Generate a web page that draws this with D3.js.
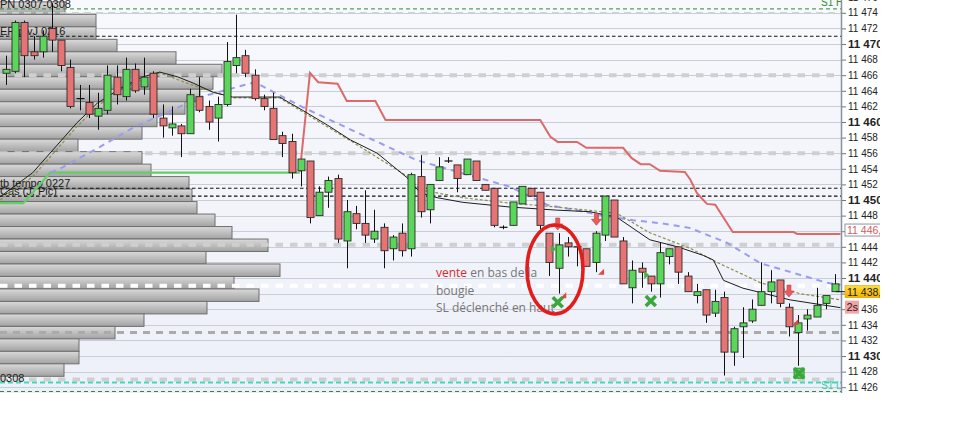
<!DOCTYPE html>
<html>
<head>
<meta charset="utf-8">
<script src="https://cdn.jsdelivr.net/npm/d3@7"></script>
<style>
html, body { margin: 0; padding: 0; background: #fff; }
svg { display: block; }
</style>
</head>
<body>
<svg id="chart" width="977" height="437"></svg>
<script>
// candles (index 0 = leftmost visible bar)
var opens = [11466.25, 11466.5, 11472.75, 11469, 11469, 11472, 11470.5, 11467, 11463, 11462.5,
  11460.75, 11461.5, 11465.75, 11463.25, 11466.75, 11464.5, 11466.25, 11460.5, 11459.25, 11459.5,
  11458.5, 11463.25, 11462, 11460.5, 11462.25, 11467.25, 11468.5, 11466, 11463, 11461.75,
  11458.25, 11457.5, 11453.75, 11455, 11448, 11451, 11452.75, 11444.75, 11448.25, 11447,
  11445, 11446.5, 11443.75, 11445.75, 11443.75, 11453, 11448.75, 11452.5, 11455, 11454.5,
  11453.25, 11455, 11452, 11451.5, 11446.5, 11446.75, 11449.5, 11451.5, 11451, 11445.75,
  11441.25, 11444.5, 11444, 11443.75, 11442, 11445.5, 11450, 11444.75, 11438.75, 11441.25,
  11440.25, 11439.25, 11442.75, 11444, 11440.25, 11437.75, 11438.5, 11435.5, 11437.5, 11430.5,
  11433.75, 11434.5, 11436.5, 11438.25, 11439.75, 11436.25, 11433, 11434.75, 11435, 11436.75,
  11438.25];
var highs = [11468.5, 11473, 11473, 11471, 11471.75, 11475.25, 11470.5, 11468, 11464.75, 11464.75,
  11463.75, 11467.25, 11467.25, 11468.25, 11467.5, 11468.25, 11466.5, 11462.25, 11462, 11459.75,
  11464.25, 11465.75, 11462.75, 11463.25, 11470.25, 11473.75, 11469.25, 11466.75, 11463.5, 11463.75,
  11458.75, 11458.5, 11455.25, 11455, 11451.75, 11453, 11453.25, 11450, 11449.25, 11451.25,
  11448.75, 11447, 11445.5, 11447, 11453.5, 11455.75, 11452, 11455.5, 11455.5, 11454.5,
  11455.25, 11455, 11452, 11451.5, 11446.75, 11449.75, 11451.75, 11451.5, 11451, 11445.75,
  11445.75, 11445.25, 11444, 11443.75, 11446, 11450.5, 11450, 11445.25, 11442.25, 11442,
  11440.25, 11444.5, 11443.75, 11444, 11440.75, 11439.25, 11438.5, 11438.5, 11438.25, 11433.75,
  11436.25, 11437.25, 11442, 11441, 11439.75, 11436.75, 11435.25, 11436, 11438.75, 11437.75,
  11440.5];
var lows = [11464.75, 11466.25, 11465.75, 11468, 11468.25, 11469, 11466.5, 11461.75, 11461.5, 11460.5,
  11459, 11461, 11462.25, 11462.75, 11463.75, 11463.5, 11460.5, 11458, 11458.25, 11455.5,
  11458.5, 11461.25, 11459, 11457.5, 11462, 11466.25, 11465.75, 11462.75, 11461.5, 11457.75,
  11455.5, 11452.75, 11451.75, 11447, 11448, 11449, 11444.5, 11441.25, 11446.25, 11444.5,
  11444.5, 11441.25, 11442.25, 11442.75, 11442.75, 11447.75, 11447, 11452.5, 11454.75, 11451,
  11453.25, 11452.5, 11451.25, 11446.5, 11446.25, 11446.75, 11449.5, 11450.5, 11446.25, 11440.25,
  11438, 11442.75, 11441.5, 11441.5, 11440.75, 11444.75, 11445.25, 11439.25, 11436.75, 11438.75,
  11438.25, 11437.5, 11441.75, 11439.25, 11438.25, 11436.75, 11434.25, 11435, 11427.5, 11428.75,
  11429.75, 11434.25, 11436.5, 11436.75, 11436.25, 11432.5, 11428.75, 11433.25, 11435, 11436,
  11438.25];
var closes = [11466.75, 11472.75, 11468.5, 11468.5, 11471, 11470.5, 11467.25, 11462, 11463, 11461,
  11461.75, 11466, 11463.5, 11466.75, 11464, 11465.75, 11461, 11459.5, 11459.75, 11458.5,
  11463.5, 11461.5, 11460, 11462.25, 11467.75, 11468.25, 11466.25, 11463, 11462, 11457.75,
  11457.25, 11453.5, 11455.25, 11447.75, 11451, 11452.5, 11445, 11448.5, 11447, 11445.5,
  11446, 11443.5, 11445.25, 11443.5, 11453.25, 11448.5, 11452, 11454.25, 11455, 11452.75,
  11455.25, 11452.5, 11451.25, 11446.75, 11446.5, 11449.75, 11451.75, 11450.5, 11446.75, 11442,
  11444.25, 11444, 11444, 11441.5, 11445.75, 11450.5, 11445.25, 11439.25, 11441, 11440.75,
  11439.25, 11443.25, 11443.75, 11440.75, 11438.25, 11438.25, 11435.25, 11437, 11430.5, 11433.5,
  11434.25, 11436, 11438.25, 11439.5, 11436.75, 11433.75, 11434.25, 11435.25, 11436.5, 11437.75,
  11439.25];

// moving averages and stops: [bar index, price] vertices
var maBlack = [[-0.65, 11450.4], [2.9, 11453.5], [7.7, 11459.9], [9.9, 11462.4], [12.7, 11464.5],
  [14.9, 11465.8], [16.7, 11466.4], [18.6, 11465.8], [20.3, 11465.0], [22.5, 11463.8], [24.6, 11463.2],
  [29.7, 11463.2], [32.2, 11461.5], [34.9, 11459.6], [37.4, 11457.7], [40.3, 11456.0], [43.5, 11452.9],
  [45.0, 11450.9], [46.8, 11450.3], [49.6, 11449.7], [54.7, 11449.1], [59.8, 11448.7], [63.4, 11448.5],
  [66.3, 11447.8], [69.9, 11444.9], [72.9, 11444.0], [75.7, 11442.9], [76.8, 11442.3], [77.9, 11439.7],
  [80.0, 11438.7], [85.1, 11437.2], [90.6, 11436.2]];
var maOlive = [[-0.65, 11450.0], [2.9, 11453.0], [7.7, 11459.4], [9.9, 11462.0], [12.7, 11464.4],
  [16.7, 11466.3], [20.3, 11464.7], [24.6, 11463.1], [29.7, 11463.1], [32.2, 11461.3], [37.4, 11457.6],
  [43.5, 11453.1], [45.0, 11451.3], [49.6, 11450.3], [54.7, 11449.6], [59.8, 11449.1], [66.3, 11448.3],
  [69.9, 11445.8], [74.3, 11443.8], [77.2, 11442.0], [81.9, 11439.4], [86.2, 11438.0], [90.6, 11437.2]];
var maSlow = [[4.8, 11453.5], [6.0, 11454.1], [10.2, 11456.8], [14.0, 11459.4], [17.5, 11461.2],
  [21.1, 11463.2], [27.0, 11465.1], [32.2, 11461.9], [44.6, 11455.1], [54.7, 11451.7], [58.7, 11449.4],
  [64.5, 11448.1], [68.1, 11447.4], [71.3, 11447.0], [74.3, 11446.4], [78.3, 11444.5], [81.9, 11441.9],
  [89.1, 11439.4], [90.6, 11439.1]];
var stopLong = [[-1, 11449.6], [1.9, 11449.6], [4.8, 11453.5], [31.9, 11453.5]];
var stopShort = [[31.9, 11453.6], [33.0, 11466.3], [33.9, 11465.1], [36.0, 11464.9], [37.0, 11462.7],
  [40.1, 11462.7], [41.2, 11460.25], [58.0, 11460.25], [59.1, 11458.1], [59.9, 11457.45], [62.0, 11457.45],
  [63.0, 11456.7], [67.0, 11456.7], [67.9, 11455.4], [68.9, 11454.6], [69.9, 11454.6], [71.0, 11453.75],
  [73.7, 11453.6], [74.3, 11452.6], [75.0, 11450.9], [75.7, 11450.0], [76.1, 11449.5], [77.0, 11449.4],
  [78.9, 11445.9], [85.5, 11445.9], [85.9, 11445.65], [90.6, 11445.65]];

// volume profile on the left (bin low price, volume)
var profileLow = [11473.8, 11472.2, 11470.6, 11469.0, 11467.4, 11465.8, 11464.2, 11462.6, 11461.0, 11459.4,
  11457.8, 11456.2, 11454.6, 11453.0, 11451.4, 11449.8, 11448.2, 11446.6, 11445.0, 11443.4,
  11441.8, 11440.2, 11438.6, 11437.0, 11435.4, 11433.8, 11432.2, 11430.6, 11429.0, 11427.4];
var profileVol = [65, 96, 96, 117, 176, 222, 213, 200, 185, 157, 142, 78, 142, 151, 189, 192, 197, 215, 232, 268,
  206, 280, 234, 259, 207, 144, 115, 79, 79, 64];
var profileStep = 1.6;

// horizontal levels
var levelPrice = [11474.5, 11474, 11471, 11466, 11456, 11451.5, 11450.5, 11444.25, 11439, 11433, 11427, 11426.6, 11425.45];
var levelKind = ['pivot', 'light', 'black', 'grey', 'grey', 'black', 'black', 'grey', 'white', 'mid', 'grey', 'cyan', 'pivot'];
var levelText = ['PN 0307-0308', '', 'ER pivJ 0216', '', '', 'tb tempo 0227', 'Cas (J, Pic)', '', '', '', '', '0308', ''];

// trade markers
var exitIdx = [59.9, 70.0], exitPx = [11436.9, 11437.05];
var targetIdx = [86.1], targetPx = [11427.8];
var sellIdx = [59.9, 64.1, 85.0], sellPx = [11446.8, 11447.4, 11438.2];
var redTickIdx = [60.5, 64.6, 85.7], redTickPx = [11437.8, 11440.8, 11434.35];
var greenTickIdx = [59.4, 69.5], greenTickPx = [11443.7, 11440.4];

var lastQuote = 11438.25, stopQuote = 11446.15;
var annotation = ['vente', ' en bas de la', 'bougie', 'SL déclenché en haut'];

var W = 977, H = 437, plotW = 841, plotH = 393;
var svg = d3.select('#chart');
var x = d3.scaleLinear().domain([0, 90]).range([6, 835]);
var y = d3.scaleLinear().domain([11425.26, 11475.64]).range([plotH, 0]);
var xv = d3.scaleLinear().domain([0, 300]).range([0, 300]);

var fmtPrice = function (v, dec) {
    var s = v.toFixed(dec || 0).replace('.', ',');
    return s.slice(0, 2) + ' ' + s.slice(2);
};

var defs = svg.append('defs');
defs.append('clipPath').attr('id', 'plotClip')
    .append('rect').attr('width', plotW).attr('height', plotH);
var bg = defs.append('linearGradient').attr('id', 'bgGrad').attr('x1', 0).attr('x2', 0).attr('y1', 0).attr('y2', 1);
bg.append('stop').attr('offset', '0%').attr('stop-color', '#f8f9fd');
bg.append('stop').attr('offset', '100%').attr('stop-color', '#edf0f8');
var bar = defs.append('linearGradient').attr('id', 'barGrad').attr('x1', 0).attr('x2', 0).attr('y1', 0).attr('y2', 1);
bar.append('stop').attr('offset', '0%').attr('stop-color', '#dadada');
bar.append('stop').attr('offset', '100%').attr('stop-color', '#a2a2a2');
var yel = defs.append('linearGradient').attr('id', 'yelGrad').attr('x1', 0).attr('x2', 0).attr('y1', 0).attr('y2', 1);
yel.append('stop').attr('offset', '0%').attr('stop-color', '#ffdc3a');
yel.append('stop').attr('offset', '100%').attr('stop-color', '#f2b100');

svg.append('rect').attr('width', W).attr('height', H).attr('fill', '#fff');
var plot = svg.append('g').attr('clip-path', 'url(#plotClip)');
plot.append('rect').attr('width', plotW).attr('height', plotH).attr('fill', 'url(#bgGrad)');

// grid every 2 points
var gridVals = d3.range(11426, 11477, 2);
plot.append('g').selectAll('line').data(gridVals).enter().append('line')
    .attr('x1', 0).attr('x2', plotW)
    .attr('y1', function (d) { return Math.round(y(d)) + 0.5; })
    .attr('y2', function (d) { return Math.round(y(d)) + 0.5; })
    .attr('stroke', '#c9cdd8').attr('stroke-width', 1);

// volume profile
plot.append('g').selectAll('rect').data(profileLow).enter().append('rect')
    .attr('x', -1)
    .attr('y', function (d) { return y(d + profileStep); })
    .attr('width', function (d, i) { return xv(profileVol[i]) + 1; })
    .attr('height', function (d) { return y(d) - y(d + profileStep); })
    .attr('fill', 'url(#barGrad)')
    .attr('stroke', '#6f6f6f').attr('stroke-width', 1);

// level lines
var levelStyle = {
    pivot: { c: '#2f8a2f', w: 1, dash: '4,3' },
    light: { c: '#cfd2d8', w: 1.5, dash: '7,5' },
    black: { c: '#111', w: 1.1, dash: '3.5,2.5' },
    grey: { c: '#cfcfcf', w: 4, dash: '7.5,7' },
    white: { c: '#ffffff', w: 4, dash: '7.5,7' },
    mid: { c: '#aaaaaa', w: 3, dash: '7,6' },
    cyan: { c: '#3ddcb4', w: 2, dash: '5,3' }
};
plot.append('g').selectAll('line').data(levelPrice).enter().append('line')
    .attr('x1', 0).attr('x2', plotW)
    .attr('y1', function (d) { return y(d); })
    .attr('y2', function (d) { return y(d); })
    .attr('stroke', function (d, i) { return levelStyle[levelKind[i]].c; })
    .attr('stroke-width', function (d, i) { return levelStyle[levelKind[i]].w; })
    .attr('stroke-dasharray', function (d, i) { return levelStyle[levelKind[i]].dash; });
plot.append('g').selectAll('text').data(levelPrice).enter().append('text')
    .attr('x', 0)
    .attr('y', function (d) { return y(d) - 1; })
    .attr('font-family', 'Liberation Sans, Arial, sans-serif').attr('font-size', 11)
    .attr('fill', '#1a1a1a')
    .text(function (d, i) { return levelText[i]; });
plot.append('text').attr('x', 821).attr('y', y(11474.5) - 2.5)
    .attr('font-family', 'Liberation Sans, Arial, sans-serif').attr('font-size', 10)
    .attr('fill', '#2f8a2f').text('S1 H');
plot.append('text').attr('x', 821).attr('y', y(11426.6) + 6)
    .attr('font-family', 'Liberation Sans, Arial, sans-serif').attr('font-size', 10)
    .attr('fill', '#3cc9a4').text('S1 L');

// lines
var line = d3.line()
    .x(function (d) { return x(d[0]); })
    .y(function (d) { return y(d[1]); });
plot.append('path').datum(stopLong).attr('d', line)
    .attr('fill', 'none').attr('stroke', '#66cc66').attr('stroke-width', 2.2);
plot.append('path').datum(stopShort).attr('d', line)
    .attr('fill', 'none').attr('stroke', '#dc6a6a').attr('stroke-width', 2);
plot.append('path').datum(maSlow).attr('d', line)
    .attr('fill', 'none').attr('stroke', '#9a9cf0').attr('stroke-width', 2)
    .attr('stroke-dasharray', '6,5');
plot.append('path').datum(maOlive).attr('d', line)
    .attr('fill', 'none').attr('stroke', '#8e8e4c').attr('stroke-width', 1.2)
    .attr('stroke-dasharray', '3,2');
plot.append('path').datum(maBlack).attr('d', line)
    .attr('fill', 'none').attr('stroke', '#1e1e1e').attr('stroke-width', 1);

// annotation text (under the candles)
var note = plot.append('g')
    .attr('font-family', 'Open Sans, sans-serif').attr('font-size', 12).attr('fill', '#767676');
var l1 = note.append('text').attr('x', 436).attr('y', 277);
l1.append('tspan').attr('fill', '#d42a2a').text(annotation[0]);
l1.append('tspan').text(annotation[1]);
note.append('text').attr('x', 436).attr('y', 294.5).text(annotation[2]);
note.append('text').attr('x', 436).attr('y', 312).text(annotation[3]);

// candles
var idx = d3.range(opens.length);
var candles = plot.append('g').selectAll('g').data(idx).enter().append('g');
candles.append('line')
    .attr('x1', function (i) { return Math.round(x(i)) + 0.5; })
    .attr('x2', function (i) { return Math.round(x(i)) + 0.5; })
    .attr('y1', function (i) { return y(highs[i]); })
    .attr('y2', function (i) { return y(lows[i]); })
    .attr('stroke', '#111').attr('stroke-width', 1);
candles.filter(function (i) { return opens[i] !== closes[i]; }).append('rect')
    .attr('x', function (i) { return Math.round(x(i)) - 3; })
    .attr('y', function (i) { return y(Math.max(opens[i], closes[i])); })
    .attr('width', 7)
    .attr('height', function (i) { return Math.max(1.5, Math.abs(y(opens[i]) - y(closes[i]))); })
    .attr('fill', function (i) { return closes[i] > opens[i] ? '#5ad65a' : '#e77474'; })
    .attr('stroke', '#2a2a2a').attr('stroke-width', 0.9);
candles.filter(function (i) { return opens[i] === closes[i]; }).append('line')
    .attr('x1', function (i) { return Math.round(x(i)) - 3.5; })
    .attr('x2', function (i) { return Math.round(x(i)) + 4.5; })
    .attr('y1', function (i) { return y(opens[i]); })
    .attr('y2', function (i) { return y(opens[i]); })
    .attr('stroke', '#111').attr('stroke-width', 1.2);

// markers
var mk = plot.append('g');
mk.selectAll('.sell').data(sellIdx).enter().append('path')
    .attr('transform', function (d, i) { return 'translate(' + x(d) + ',' + y(sellPx[i]) + ')'; })
    .attr('d', 'M-2,-7 L2,-7 L2,-1 L5,-1 L0,5 L-5,-1 L-2,-1 Z')
    .attr('fill', '#ea5c5c').attr('stroke', '#b83a3a').attr('stroke-width', 0.6);
mk.selectAll('.rt').data(redTickIdx).enter().append('path')
    .attr('transform', function (d, i) { return 'translate(' + x(d) + ',' + y(redTickPx[i]) + ')'; })
    .attr('d', 'M3,-3 L3,3 L-3,3 Z')
    .attr('fill', '#e04848');
mk.selectAll('.gt').data(greenTickIdx).enter().append('path')
    .attr('transform', function (d, i) { return 'translate(' + x(d) + ',' + y(greenTickPx[i]) + ')'; })
    .attr('d', 'M-2,-4 L3,0 L-2,4 Z')
    .attr('fill', '#3fb23f');
mk.selectAll('.tg').data(targetIdx).enter().append('rect')
    .attr('x', function (d) { return x(d) - 5; })
    .attr('y', function (d, i) { return y(targetPx[i]) - 5; })
    .attr('width', 10).attr('height', 10)
    .attr('fill', '#5ad65a').attr('stroke', '#2e8f2e');
var xMark = 'M-5,-5 L5,5 M5,-5 L-5,5';
mk.selectAll('.ex').data(exitIdx.concat(targetIdx)).enter().append('path')
    .attr('transform', function (d, i) {
        var p = exitPx.concat(targetPx)[i];
        return 'translate(' + x(d) + ',' + y(p) + ')';
    })
    .attr('d', xMark)
    .attr('stroke', '#3aa73a').attr('stroke-width', 3.6).attr('fill', 'none');

// red ellipse around the trade
plot.append('ellipse')
    .attr('cx', x(59.6)).attr('cy', y(11441.1))
    .attr('rx', 28).attr('ry', 44.5)
    .attr('fill', 'none').attr('stroke', '#e31c1c').attr('stroke-width', 3.6);

// right price axis; the two labels sitting under the price flags are not shown
var hiddenTicks = [11446, 11438];
var axis = svg.append('g').attr('transform', 'translate(' + plotW + ',0)')
    .call(d3.axisRight(y).tickValues(gridVals).tickSize(5).tickPadding(2)
        .tickFormat(function (d) { return hiddenTicks.indexOf(d) >= 0 ? '' : fmtPrice(d); }));
axis.select('.domain').remove();
axis.selectAll('.tick line').attr('stroke', '#6d7480');
axis.selectAll('.tick text')
    .attr('fill', '#222')
    .attr('font-family', 'Liberation Sans, Arial, sans-serif')
    .attr('font-size', function (d) { return d % 10 === 0 ? 11.5 : 10; })
    .attr('font-weight', function (d) { return d % 10 === 0 ? 'bold' : 'normal'; });
svg.append('line').attr('x1', plotW + 0.5).attr('x2', plotW + 0.5).attr('y1', 0).attr('y2', plotH)
    .attr('stroke', '#8791a0').attr('stroke-width', 1.5);

// price flags on the axis
var flags = svg.append('g').attr('font-family', 'Liberation Sans, Arial, sans-serif').attr('font-size', 10.5);
flags.append('rect').attr('x', 845).attr('y', y(stopQuote) - 6).attr('width', 40).attr('height', 12)
    .attr('fill', '#fff').attr('stroke', '#8c96a4');
flags.append('text').attr('x', 847).attr('y', y(stopQuote) + 4).attr('fill', '#d65a5a')
    .text(fmtPrice(stopQuote, 1));
flags.append('line').attr('x1', 836).attr('x2', 846).attr('y1', y(lastQuote)).attr('y2', y(lastQuote))
    .attr('stroke', '#111');
flags.append('rect').attr('x', 845).attr('y', y(lastQuote) - 6).attr('width', 40).attr('height', 12)
    .attr('fill', 'url(#yelGrad)').attr('stroke', '#d9a000').attr('stroke-width', 0.6);
flags.append('text').attr('x', 847).attr('y', y(lastQuote) + 4).attr('fill', '#1a1a1a')
    .text(fmtPrice(lastQuote, 2));
flags.append('rect').attr('x', 845).attr('y', y(lastQuote) + 9).attr('width', 14).attr('height', 13)
    .attr('fill', '#f5a3a3');
flags.append('text').attr('x', 846.5).attr('y', y(lastQuote) + 19.5).attr('fill', '#222').attr('font-size', 11)
    .text('2s');

// screenshot edge
svg.append('rect').attr('x', 880).attr('y', 0).attr('width', W - 880).attr('height', H).attr('fill', '#fff');
</script>
</body>
</html>
